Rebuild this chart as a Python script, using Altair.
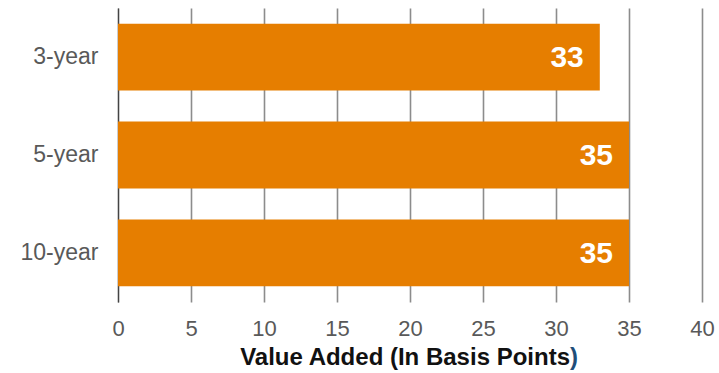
import altair as alt
import pandas as pd

periods = ["3-year", "5-year", "10-year"]
values = [33, 35, 35]
x_ticks = [0, 5, 10, 15, 20, 25, 30, 35, 40]

df = pd.DataFrame({"period": periods, "value": values})

FONT = "Liberation Sans"
BAR = "#E67E00"

base = alt.Chart(df)

bars = base.mark_bar(color=BAR).encode(
    x=alt.X(
        "value:Q",
        scale=alt.Scale(domain=[0, 40], nice=False),
        axis=alt.Axis(
            values=x_ticks,
            title=None,
            grid=True,
            gridColor="#8c8c8c",
            gridWidth=1.6,
            domain=False,
            ticks=False,
            labelFlush=False,
            labelFont=FONT,
            labelFontSize=22,
            labelColor="#595959",
            labelPadding=16,
        ),
    ),
    y=alt.Y(
        "period:N",
        sort=periods,
        scale=alt.Scale(paddingInner=0.316, paddingOuter=0.16),
        axis=alt.Axis(
            title=None,
            domain=True,
            domainColor="#444444",
            domainWidth=1.2,
            ticks=False,
            labelFont=FONT,
            labelFontSize=23,
            labelColor="#595959",
            labelPadding=20,
        ),
    ),
)

labels = base.mark_text(
    align="right",
    baseline="middle",
    dx=-16,
    dy=1,
    font=FONT,
    fontSize=30,
    fontWeight="bold",
    color="white",
).encode(
    x="value:Q",
    y=alt.Y("period:N", sort=periods),
    text="value:Q",
)

# Axis title, with the closing parenthesis in navy
title_main = alt.Chart(pd.DataFrame({"t": ["Value Added (In Basis Points"]})).mark_text(
    align="right", baseline="middle", font=FONT, fontSize=24, fontWeight="bold", color="#111111"
).encode(x=alt.value(452), y=alt.value(350), text="t:N")

title_end = alt.Chart(pd.DataFrame({"t": [")"]})).mark_text(
    align="left", baseline="middle", font=FONT, fontSize=24, fontWeight="bold", color="#1F4E79"
).encode(x=alt.value(452), y=alt.value(350), text="t:N")

chart = (
    alt.layer(bars, labels, title_main, title_end)
    .properties(
        width=584,
        height=294,
        autosize=alt.AutoSizeParams(type="none"),
        padding={"left": 118, "top": 8, "right": 17, "bottom": 71},
    )
    .configure_view(stroke=None)
)

chart.save("out.html", embed_options={"renderer": "svg", "actions": False})
